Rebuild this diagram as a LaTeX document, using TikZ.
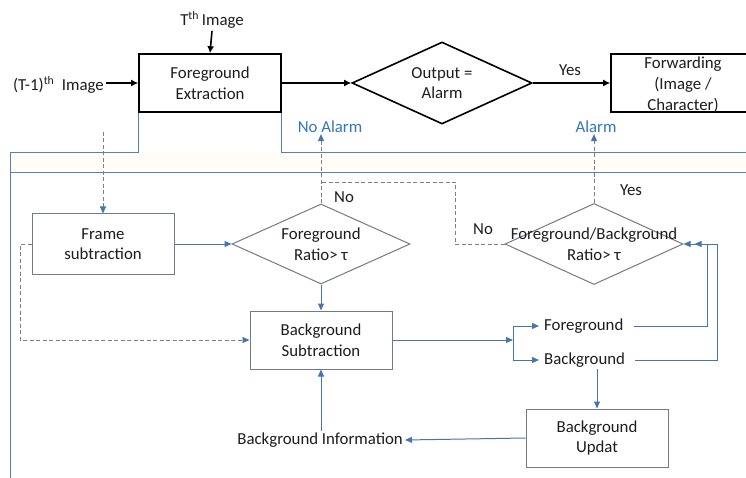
\documentclass[tikz,border=0pt]{standalone}
\usepackage{fontspec}
\setmainfont{Carlito}
\usetikzlibrary{arrows.meta,shapes.geometric,calc}
\definecolor{framecol}{RGB}{84,130,180}
\definecolor{edgecol}{RGB}{112,122,138}
\definecolor{flowcol}{RGB}{72,116,178}
\definecolor{dashcol}{RGB}{118,128,142}
\definecolor{bluetext}{RGB}{52,118,186}
\definecolor{inktext}{RGB}{28,28,28}
\definecolor{bandfill}{RGB}{255,253,246}
\tikzset{
  every node/.style={font=\fontsize{16.8}{20.5}\selectfont, text=inktext, align=center},
  topbox/.style={draw=black, line width=1.6pt, rectangle, minimum width=142pt, minimum height=58pt, inner sep=0pt},
  topdia/.style={draw=black, line width=1.6pt, diamond, minimum width=180pt, minimum height=82pt, inner sep=0pt},
  lowbox/.style={draw=edgecol, line width=1pt, rectangle, minimum width=142pt, minimum height=58pt, inner sep=0pt},
  lowdia/.style={draw=edgecol, line width=1pt, diamond, minimum width=178pt, minimum height=80pt, inner sep=0pt},
  blackarr/.style={draw=black, line width=1.6pt, -{Latex[length=7pt,width=7pt]}},
  framel/.style={draw=framecol, line width=1pt},
  flow/.style={draw=flowcol, line width=1pt, -{Triangle[length=7pt,width=6pt]}},
  flowtip/.style={-{Triangle[length=7pt,width=6pt,color=flowcol]}},
  dashl/.style={draw=dashcol, line width=0.9pt, dash pattern=on 4pt off 2.5pt},
  plain/.style={inner sep=2pt},
  bluelbl/.style={text=bluetext, inner sep=1pt},
}
\begin{document}
\begin{tikzpicture}[x=1pt, y=-1pt]
\useasboundingbox (0,0) rectangle (746,478);
\clip (0,0) rectangle (746,478);

% band between the two frame rules
\fill[bandfill] (10,153) rectangle (746,173);

% ---------- top row ----------
\node[topbox] (fe) at (210,83) {Foreground\\Extraction};
\node[plain] (tth) at (212,20) {T\textsuperscript{th}\,Image};
\node[plain, anchor=east] (tm1) at (106,85) {(T-1)\textsuperscript{th}\ \ Image};
\node[topdia] (oa) at (442,83) {};
\node at (oa) {Output =\\Alarm};
\node[draw=black, line width=1.6pt, rectangle, minimum width=144pt, minimum height=58pt, inner sep=0pt] (fwd) at (683,83) {};
\node[font=\fontsize{16.8}{21}\selectfont] at ([yshift=-2pt]fwd.center) {Forwarding\\(Image /\\Character)};
\node[plain] (yes1) at (570,70) {Yes};

\draw[blackarr] (tth.south) -- (fe.north);
\draw[blackarr] (tm1.east |- fe.west) -- (fe.west);
\draw[blackarr] (fe.east) -- (oa.west);
\draw[blackarr] (oa.east) -- (fwd.west);

% ---------- frame ----------
\draw[framel] (fe.south west) |- (10,153) -- (10,480);
\draw[framel] (fe.south east) |- (746,153);
\draw[framel] (10,173) -- (746,173);

% ---------- lower flow ----------
\node[lowbox, minimum height=60pt] (fs) at (103,244) {Frame\\subtraction};
\node[lowdia] (fr) at (321,244) {};
\node at (fr) {Foreground\\Ratio> τ};
\node[lowbox] (bs) at (321,340) {Background\\Subtraction};
\node[lowdia, minimum height=81pt] (fbr) at (594,244) {};
\node at (fbr) {Foreground/Background\\Ratio> τ};
\node[plain, anchor=west] (fgt) at (542,326) {Foreground};
\node[plain, anchor=west] (bgt) at (542,360) {Background};
\node[lowbox] (bu) at (597,438) {Background\\Updat};
\node[plain, anchor=east] (bi) at (405,440) {Background Information};

\node[bluelbl] (noalarm) at (330,127) {No Alarm};
\node[bluelbl] (alarm) at (596,127) {Alarm};
\node[plain] (no1) at (344,197) {No};
\node[plain] (no2) at (483,229) {No};
\node[plain] (yes2) at (631,190) {Yes};

\coordinate (src) at (103,132);
\coordinate (nj) at (321,182);
\coordinate (sp) at (513,340);

% dashed paths
\draw[dashl, flowtip] (src) -- (fs.north);
\draw[dashl, flowtip] (fs.west) -- (20,244) |- (bs.west);
\draw[dashl, flowtip] (fr.north) -- (fr.north |- noalarm.south);
\draw[dashl] (fbr.west) -- (455,244) |- (nj);
\draw[dashl, flowtip] (fbr.north) -- (fbr.north |- alarm.south);

% solid blue flow
\draw[flow] (fs.east) -- (fr.west);
\draw[flow] (fr.south) -- (bs.north);
\draw[flow] (bs.east) -- (sp);
\draw[flow, shorten >=3pt] (sp) |- (fgt.west);
\draw[flow, shorten >=3pt] (sp) |- (bgt.west);
\draw[flow, shorten <=8pt] (fgt.east) -| ([xshift=24pt]fbr.east) -- (fbr.east);
\draw[flow, shorten <=8pt] (bgt.east) -| ([xshift=34pt]fbr.east) -- ([xshift=11pt]fbr.east);
\draw[flow] (bu.north |- bgt.south) -- (bu.north);
\draw[flow] (bu.west) -- (bi.east);
\draw[flow] (bs.south |- bi.north) -- (bs.south);
\end{tikzpicture}
\end{document}
